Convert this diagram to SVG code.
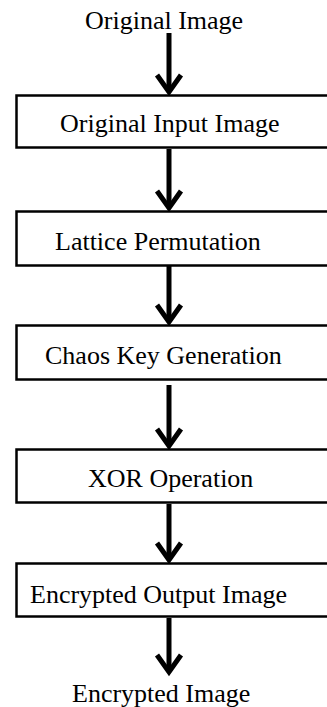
<svg xmlns="http://www.w3.org/2000/svg" width="327" height="707" viewBox="0 0 327 707">
<defs>
<style>
text{font-family:"Liberation Serif","Times New Roman",serif;font-size:26px;fill:#000}
.box{fill:#fff;stroke:#000;stroke-width:2.5}
.shaft{stroke:#000;stroke-width:5;fill:none}
.head{stroke:#000;stroke-width:5;fill:none;stroke-linejoin:miter;stroke-miterlimit:10}
</style>
</defs>
<rect width="327" height="707" fill="#fff"/>
<g id="connectors">
<line class="shaft" x1="169" y1="33" x2="169" y2="92"/>
<polyline class="head" points="157,75 169,92 181,75"/>
<line class="shaft" x1="169" y1="149" x2="169" y2="208"/>
<polyline class="head" points="157,191 169,208 181,191"/>
<line class="shaft" x1="169" y1="266" x2="169" y2="322"/>
<polyline class="head" points="157,305 169,322 181,305"/>
<line class="shaft" x1="169" y1="385" x2="169" y2="446"/>
<polyline class="head" points="157,429 169,446 181,429"/>
<line class="shaft" x1="169" y1="504" x2="169" y2="560"/>
<polyline class="head" points="157,543 169,560 181,543"/>
<line class="shaft" x1="169" y1="618" x2="169" y2="672"/>
<polyline class="head" points="157,655 169,672 181,655"/>
</g>
<g id="start"><text x="85" y="29">Original Image</text></g>
<g id="n1"><rect class="box" x="16.5" y="95.5" width="330" height="52"/><text x="60" y="132">Original Input Image</text></g>
<g id="n2"><rect class="box" x="16.5" y="211.5" width="330" height="54"/><text x="55" y="250">Lattice Permutation</text></g>
<g id="n3"><rect class="box" x="16.5" y="325.5" width="330" height="54"/><text x="45" y="364">Chaos Key Generation</text></g>
<g id="n4"><rect class="box" x="16.5" y="449.5" width="330" height="53"/><text x="88" y="487">XOR Operation</text></g>
<g id="n5"><rect class="box" x="16.5" y="563.5" width="330" height="53"/><text x="30" y="603">Encrypted Output Image</text></g>
<g id="end"><text x="72" y="702">Encrypted Image</text></g>
</svg>
